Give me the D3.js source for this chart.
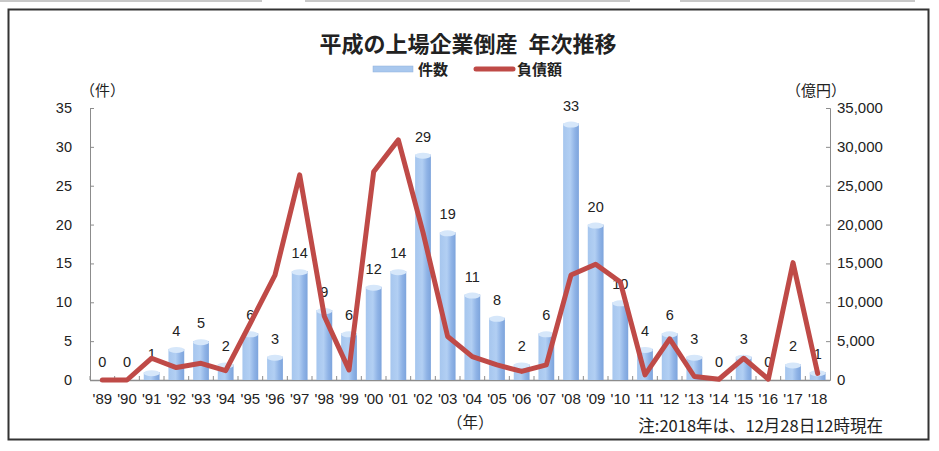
<!DOCTYPE html>
<meta charset="utf-8">
<style>
    body { margin: 0; background: #fff; }
    text { font-family: "Liberation Sans", Arial, sans-serif; fill: #222; }
    .jp { font-family: "Noto Sans CJK JP", sans-serif; }
</style>
<body>
<div id="chart"></div>
<script src="https://d3js.org/d3.v7.min.js"></script>
<script>
    var years = ["'89", "'90", "'91", "'92", "'93", "'94", "'95", "'96", "'97", "'98", "'99",
        "'00", "'01", "'02", "'03", "'04", "'05", "'06", "'07", "'08", "'09", "'10",
        "'11", "'12", "'13", "'14", "'15", "'16", "'17", "'18"];
    // 件数
    var counts = [0, 0, 1, 4, 5, 2, 6, 3, 14, 9, 6, 12, 14, 29, 19, 11, 8, 2, 6, 33, 20, 10,
        4, 6, 3, 0, 3, 0, 2, 1];
    // 負債額 (億円)
    var debt = [0, 0, 2800, 1600, 2150, 1200, 7300, 13500, 26400, 8200, 1300, 26800, 30900,
        19000, 5600, 3000, 1950, 1100, 1950, 13500, 14900, 12600, 650, 5300, 450, 100,
        2800, 100, 15100, 850];
    var leftTicks = [0, 5, 10, 15, 20, 25, 30, 35];
    var rightTicks = [0, 5000, 10000, 15000, 20000, 25000, 30000, 35000];

    var width = 939, height = 451;
    var plot = { left: 90, right: 830, top: 108, bottom: 380 };

    var svg = d3.select("#chart").append("svg")
        .attr("width", width)
        .attr("height", height);

    var defs = svg.append("defs");
    var grad = defs.append("linearGradient").attr("id", "barGrad")
        .attr("x1", "0%").attr("x2", "100%").attr("y1", "0%").attr("y2", "0%");
    grad.append("stop").attr("offset", "0%").attr("stop-color", "#a6c6ee");
    grad.append("stop").attr("offset", "45%").attr("stop-color", "#b2cff3");
    grad.append("stop").attr("offset", "75%").attr("stop-color", "#8fb3e6");
    grad.append("stop").attr("offset", "100%").attr("stop-color", "#7da4dc");

    // page lines above the box
    svg.append("line").attr("x1", 0).attr("x2", 262).attr("y1", 1).attr("y2", 1)
        .attr("stroke", "#c8c8c8").attr("stroke-width", 2);
    svg.append("line").attr("x1", 305).attr("x2", 630).attr("y1", 1).attr("y2", 1)
        .attr("stroke", "#c8c8c8").attr("stroke-width", 2);
    svg.append("line").attr("x1", 680).attr("x2", 915).attr("y1", 1).attr("y2", 1)
        .attr("stroke", "#c8c8c8").attr("stroke-width", 2);

    // outer box
    svg.append("rect")
        .attr("x", 8.5).attr("y", 9.5)
        .attr("width", 920).attr("height", 430)
        .attr("fill", "none")
        .attr("stroke", "#333")
        .attr("stroke-width", 2);

    var x = d3.scaleBand().domain(years).range([plot.left, plot.right]).paddingInner(0.36).paddingOuter(0.18);
    var yL = d3.scaleLinear().domain([0, 35]).range([plot.bottom, plot.top]);
    var yR = d3.scaleLinear().domain([0, 35000]).range([plot.bottom, plot.top]);

    // left axis
    var axL = svg.append("g")
        .attr("transform", "translate(" + plot.left + ",0)")
        .call(d3.axisRight(yL).tickValues(leftTicks).tickSize(4).tickFormat(""));
    axL.selectAll("path, line").attr("stroke", "#8c8c8c");
    svg.selectAll(".ltick").data(leftTicks).enter().append("text")
        .attr("x", 72).attr("y", function (d) { return yL(d) + 5; })
        .attr("text-anchor", "end")
        .style("font-size", "14.5px")
        .text(function (d) { return d; });

    // right axis
    var axR = svg.append("g")
        .attr("transform", "translate(" + plot.right + ",0)")
        .call(d3.axisLeft(yR).tickValues(rightTicks).tickSize(4).tickFormat(""));
    axR.selectAll("path, line").attr("stroke", "#8c8c8c");
    svg.selectAll(".rtick").data(rightTicks).enter().append("text")
        .attr("x", 837).attr("y", function (d) { return yR(d) + 5; })
        .style("font-size", "15px")
        .text(function (d) { return d3.format(",")(d); });

    // bottom axis with ticks between categories
    svg.append("line")
        .attr("x1", plot.left).attr("x2", plot.right)
        .attr("y1", plot.bottom + 0.5).attr("y2", plot.bottom + 0.5)
        .attr("stroke", "#8c8c8c").attr("stroke-width", 1.5);
    var step = x.step();
    svg.selectAll(".xtick").data(years).enter().append("line")
        .attr("x1", function (d) { return x(d) - (step - x.bandwidth()) / 2; })
        .attr("x2", function (d) { return x(d) - (step - x.bandwidth()) / 2; })
        .attr("y1", plot.bottom).attr("y2", plot.bottom - 4)
        .attr("stroke", "#8c8c8c");
    svg.selectAll(".xlabel").data(years).enter().append("text")
        .attr("x", function (d) { return x(d) + x.bandwidth() / 2; })
        .attr("y", 404)
        .attr("text-anchor", "middle")
        .style("font-size", "15px")
        .text(function (d) { return d; });

    // bars
    var bars = svg.selectAll(".bar").data(counts).enter().append("g");
    bars.append("rect")
        .attr("x", function (d, i) { return x(years[i]); })
        .attr("y", function (d) { return yL(d); })
        .attr("width", x.bandwidth())
        .attr("height", function (d) { return plot.bottom - yL(d); })
        .attr("fill", "url(#barGrad)");
    bars.each(function (d, i) {
        if (d > 0) {
            d3.select(this).append("ellipse")
                .attr("cx", x(years[i]) + x.bandwidth() / 2)
                .attr("cy", yL(d) + 1)
                .attr("rx", x.bandwidth() / 2)
                .attr("ry", 3)
                .attr("fill", "#d6e7fa");
        }
    });

    // data labels
    svg.selectAll(".vlabel").data(counts).enter().append("text")
        .attr("x", function (d, i) { return x(years[i]) + x.bandwidth() / 2; })
        .attr("y", function (d) { return yL(d) - 13; })
        .attr("text-anchor", "middle")
        .style("font-size", "14.5px")
        .text(function (d) { return d; });

    // debt line
    var line = d3.line()
        .x(function (d, i) { return x(years[i]) + x.bandwidth() / 2; })
        .y(function (d) { return yR(d); });
    svg.append("path")
        .datum(debt)
        .attr("d", line)
        .attr("fill", "none")
        .attr("stroke", "#bf4a47")
        .attr("stroke-width", 5)
        .attr("stroke-linejoin", "round")
        .attr("stroke-linecap", "round");

    // title
    svg.append("text").attr("class", "jp")
        .attr("x", 468).attr("y", 52)
        .attr("text-anchor", "middle")
        .style("font-size", "22px").style("font-weight", "bold")
        .attr("xml:space", "preserve")
        .text("平成の上場企業倒産\u2002年次推移");

    // legend
    svg.append("rect")
        .attr("x", 373).attr("y", 66).attr("width", 40).attr("height", 6)
        .attr("fill", "#a9c8ee").attr("stroke", "#8fb0dc").attr("stroke-width", 0.5);
    svg.append("text").attr("class", "jp")
        .attr("x", 418).attr("y", 75)
        .style("font-size", "15px").style("font-weight", "bold")
        .text("件数");
    svg.append("line")
        .attr("x1", 476).attr("x2", 513).attr("y1", 69).attr("y2", 69)
        .attr("stroke", "#bf4a47").attr("stroke-width", 5).attr("stroke-linecap", "round");
    svg.append("text").attr("class", "jp")
        .attr("x", 517).attr("y", 75)
        .style("font-size", "15px").style("font-weight", "bold")
        .text("負債額");

    // axis units
    svg.append("text").attr("class", "jp")
        .attr("x", 80).attr("y", 96)
        .style("font-size", "15px")
        .text("（件）");
    svg.append("text").attr("class", "jp")
        .attr("x", 786).attr("y", 96)
        .style("font-size", "15px")
        .text("（億円）");
    svg.append("text").attr("class", "jp")
        .attr("x", 447).attr("y", 428)
        .style("font-size", "15.5px")
        .text("（年）");

    // note
    svg.append("text").attr("class", "jp")
        .attr("x", 883).attr("y", 432)
        .attr("text-anchor", "end")
        .style("font-size", "16.5px")
        .text("注:2018年は、12月28日12時現在");
</script>
</body>
